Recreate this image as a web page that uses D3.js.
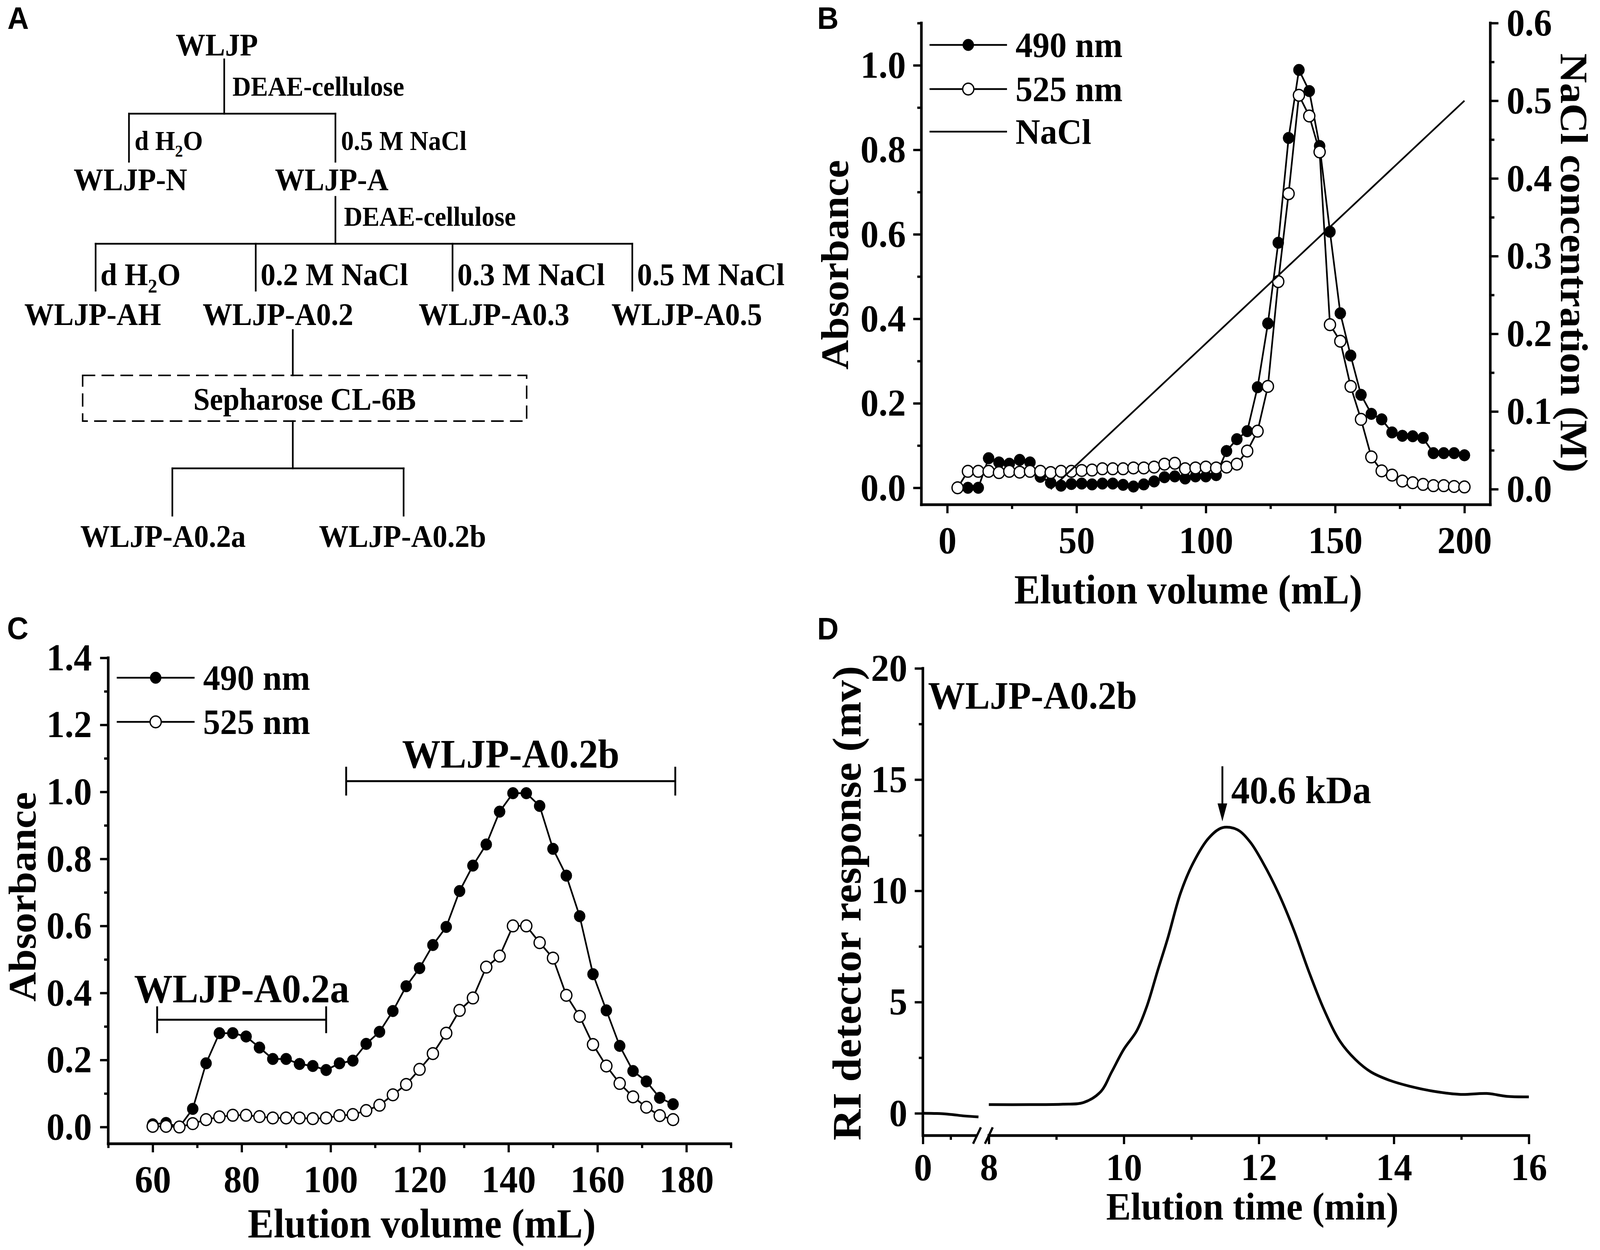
<!DOCTYPE html>
<html>
<head>
<meta charset="utf-8">
<script src="https://cdn.jsdelivr.net/npm/d3@7/dist/d3.min.js"></script>
<style>
  html, body { margin: 0; padding: 0; width: 100%; height: 100%; overflow: hidden; background: #fff; }
  svg { display: block; width: 100vw; height: 100vh; }
  text { font-family: "Liberation Serif", "Times New Roman", serif; font-weight: bold; fill: #000; }
  text.panel { font-family: "Liberation Sans", Arial, sans-serif; }
</style>
</head>
<body>
<svg id="fig" viewBox="0 0 4317 3200" preserveAspectRatio="none"></svg>
<script>
// ---------- panel A : purification scheme ----------
var aRoot = "WLJP";
var aColumn1 = "DEAE-cellulose";
var aEluents1 = ["d H2O", "0.5 M NaCl"];
var aFractions1 = ["WLJP-N", "WLJP-A"];
var aColumn2 = "DEAE-cellulose";
var aEluents2 = ["d H2O", "0.2 M NaCl", "0.3 M NaCl", "0.5 M NaCl"];
var aFractions2 = ["WLJP-AH", "WLJP-A0.2", "WLJP-A0.3", "WLJP-A0.5"];
var aColumn3 = "Sepharose CL-6B";
var aFractions3 = ["WLJP-A0.2a", "WLJP-A0.2b"];

// ---------- panel B : DEAE-cellulose elution ----------
var bVol490 = [8, 12, 16, 20, 24, 28, 32, 36, 40, 44, 48, 52, 56, 60, 64, 68, 72, 76, 80, 84, 88, 92, 96, 100,
               104, 108, 112, 116, 120, 124, 128, 132, 136, 140, 144, 148, 152, 156, 160, 164, 168, 172, 176,
               180, 184, 188, 192, 196, 200];
var bAbs490 = [0.0, 0.0, 0.07, 0.06, 0.057, 0.066, 0.06, 0.026, 0.012, 0.005, 0.009, 0.01, 0.008, 0.01, 0.01,
               0.007, 0.003, 0.008, 0.015, 0.025, 0.027, 0.022, 0.027, 0.027, 0.03, 0.087, 0.115, 0.134, 0.238,
               0.389, 0.58, 0.828, 0.989, 0.939, 0.809, 0.606, 0.413, 0.313, 0.22, 0.175, 0.162, 0.131, 0.123,
               0.122, 0.118, 0.082, 0.082, 0.082, 0.077];
var bVol525 = [4, 8, 12, 16, 20, 24, 28, 32, 36, 40, 44, 48, 52, 56, 60, 64, 68, 72, 76, 80, 84, 88, 92, 96, 100,
               104, 108, 112, 116, 120, 124, 128, 132, 136, 140, 144, 148, 152, 156, 160, 164, 168, 172, 176,
               180, 184, 188, 192, 196, 200];
var bAbs525 = [0.0, 0.039, 0.039, 0.039, 0.036, 0.039, 0.037, 0.039, 0.039, 0.036, 0.039, 0.039, 0.041, 0.042,
               0.045, 0.045, 0.045, 0.047, 0.047, 0.049, 0.056, 0.058, 0.045, 0.047, 0.049, 0.047, 0.049, 0.056,
               0.087, 0.134, 0.24, 0.488, 0.696, 0.929, 0.88, 0.795, 0.386, 0.347, 0.24, 0.162, 0.073, 0.04,
               0.03, 0.016, 0.012, 0.008, 0.005, 0.005, 0.003, 0.002];
var bNaClVol = [40, 200];
var bNaCl = [0, 0.5];
var bXTicks = [0, 50, 100, 150, 200];
var bXMinor = [25, 75, 125, 175];
var bYTicks = [0, 0.2, 0.4, 0.6, 0.8, 1.0];
var bYMinor = [0.1, 0.3, 0.5, 0.7, 0.9, 1.1];
var bRTicks = [0, 0.1, 0.2, 0.3, 0.4, 0.5, 0.6];
var bRMinor = [0.05, 0.15, 0.25, 0.35, 0.45, 0.55];

// ---------- panel C : Sepharose CL-6B elution ----------
var cVol = [60, 63, 66, 69, 72, 75, 78, 81, 84, 87, 90, 93, 96, 99, 102, 105, 108, 111, 114, 117, 120, 123,
            126, 129, 132, 135, 138, 141, 144, 147, 150, 153, 156, 159, 162, 165, 168, 171, 174, 177];
var cAbs490 = [0.008, 0.012, 0.0, 0.054, 0.19, 0.28, 0.28, 0.27, 0.237, 0.203, 0.203, 0.188, 0.182, 0.17,
               0.19, 0.198, 0.248, 0.284, 0.346, 0.42, 0.474, 0.543, 0.597, 0.704, 0.78, 0.843, 0.941, 0.996,
               0.996, 0.958, 0.83, 0.75, 0.629, 0.456, 0.348, 0.242, 0.167, 0.136, 0.087, 0.068];
var cAbs525 = [0.002, 0.002, 0.0, 0.01, 0.022, 0.03, 0.035, 0.035, 0.031, 0.027, 0.027, 0.027, 0.025, 0.027,
               0.034, 0.037, 0.049, 0.065, 0.096, 0.127, 0.172, 0.219, 0.28, 0.348, 0.385, 0.477, 0.51, 0.6,
               0.6, 0.55, 0.504, 0.393, 0.33, 0.246, 0.182, 0.13, 0.09, 0.059, 0.034, 0.022];
var cXTicks = [60, 80, 100, 120, 140, 160, 180];
var cXMinor = [50, 70, 90, 110, 130, 150, 170, 190];
var cYTicks = [0, 0.2, 0.4, 0.6, 0.8, 1.0, 1.2, 1.4];
var cYMinor = [0.1, 0.3, 0.5, 0.7, 0.9, 1.1, 1.3];
var cPeakA = [61, 99];
var cPeakB = [103.5, 177.5];

// ---------- panel D : HPGPC of WLJP-A0.2b ----------
var dTimeLow = [0, 0.5, 1.0, 1.5, 2.0];
var dRespLow = [0.0, -0.01, -0.05, -0.12, -0.16];
var dTime = [8.0, 8.6, 9.1, 9.4, 9.66, 9.82, 10.0, 10.19, 10.34, 10.5, 10.65, 10.84, 11.03, 11.26, 11.46,
             11.68, 11.87, 12.06, 12.29, 12.52, 12.74, 12.97, 13.2, 13.43, 13.66, 13.93, 14.23, 14.61, 14.99,
             15.38, 15.68, 16.0];
var dResp = [0.39, 0.39, 0.41, 0.48, 0.98, 1.86, 2.88, 3.7, 4.8, 6.4, 7.86, 9.9, 11.27, 12.38, 12.84, 12.75,
             12.2, 11.27, 9.9, 8.23, 6.38, 4.63, 3.25, 2.42, 1.86, 1.49, 1.22, 0.98, 0.85, 0.89, 0.76, 0.74];
var dPeakTime = 11.46;
var dXTicksLow = [0];
var dXMinorLow = [1];
var dXTicks = [8, 10, 12, 14, 16];
var dXMinor = [9, 11, 13, 15];
var dYTicks = [0, 5, 10, 15, 20];
var dYMinor = [2.5, 7.5, 12.5, 17.5];

var svg = d3.select("#fig");
svg.append("rect").attr("width", 4317).attr("height", 3200).attr("fill", "#fff");

var LW = 4.5, AXW = 7, R = 15, TICKFS = 98;

function seg(g, x1, y1, x2, y2, w) {
    return g.append("line")
        .attr("x1", x1).attr("y1", y1).attr("x2", x2).attr("y2", y2)
        .attr("stroke", "#000").attr("stroke-width", w || LW).attr("stroke-linecap", "square");
}

function label(g, str, x, y, size, anchor) {
    var t = g.append("text").attr("x", x).attr("y", y)
        .attr("font-size", size).attr("text-anchor", anchor || "middle");
    var m = str.match(/^(.*H)2(O.*)$/);
    if (m) {
        t.append("tspan").text(m[1]);
        t.append("tspan").attr("font-size", size * 0.62).attr("dy", size * 0.24).text("2");
        t.append("tspan").attr("dy", -size * 0.24).text(m[2]);
    } else {
        t.text(str);
    }
    return t;
}

function ticks(g, axisFn, scale, major, minor, fmt, pad, tx, ty) {
    var gm = g.append("g").attr("transform", "translate(" + tx + "," + ty + ")")
        .call(axisFn(scale).tickValues(minor).tickSize(11).tickFormat(""));
    var gM = g.append("g").attr("transform", "translate(" + tx + "," + ty + ")")
        .call(axisFn(scale).tickValues(major).tickSize(22).tickPadding(pad).tickFormat(fmt));
    [gm, gM].forEach(function (a) {
        a.select(".domain").remove();
        a.selectAll(".tick line").attr("stroke-width", 6);
    });
    gM.style("font-size", TICKFS + "px");
    return gM;
}

function series(g, xs, ys, xScale, yScale, filled) {
    var pts = xs.map(function (x, i) { return [x, ys[i]]; });
    var line = d3.line().x(function (d) { return xScale(d[0]); }).y(function (d) { return yScale(d[1]); });
    g.append("path").datum(pts).attr("d", line)
        .attr("fill", "none").attr("stroke", "#000").attr("stroke-width", LW).attr("stroke-linejoin", "round");
    g.selectAll(null).data(pts).enter().append("circle")
        .attr("cx", function (d) { return xScale(d[0]); })
        .attr("cy", function (d) { return yScale(d[1]); })
        .attr("r", R)
        .attr("fill", filled ? "#000" : "#fff")
        .attr("stroke", "#000").attr("stroke-width", filled ? 1 : 3.5);
}

function legendRow(g, x1, x2, y, marker, text) {
    seg(g, x1, y, x2, y).attr("stroke-linecap", "butt");
    if (marker) {
        g.append("circle").attr("cx", (x1 + x2) / 2).attr("cy", y).attr("r", R)
            .attr("fill", marker === "filled" ? "#000" : "#fff")
            .attr("stroke", "#000").attr("stroke-width", marker === "filled" ? 1 : 3.5);
    }
    g.append("text").attr("x", x2 + 23).attr("y", y + 31).attr("font-size", 92).text(text);
}

function panelLetter(t, x, y) {
    svg.append("text").attr("class", "panel").attr("x", x).attr("y", y).attr("font-size", 80).text(t);
}

var fmt1 = d3.format(".1f");

// ================= A =================
(function () {
    var g = svg.append("g");
    panelLetter("A", 20, 74);
    label(g, aRoot, 585, 142, 80);
    seg(g, 605, 152, 605, 291);
    label(g, aColumn1, 627, 245, 69, "start");
    var x1 = [348, 905], lab1 = [352, 895];
    seg(g, x1[0], 291, x1[1], 291);
    x1.forEach(function (x, i) {
        seg(g, x, 291, x, 414);
        label(g, aEluents1[i], x + 15, 384, 69, "start");
        label(g, aFractions1[i], lab1[i], 487, 80);
    });
    seg(g, 905, 504, 905, 624);
    label(g, aColumn2, 928, 578, 69, "start");
    var x2 = [258, 690, 1221, 1706], lab2 = [250, 750, 1333, 1853];
    seg(g, x2[0], 624, x2[3], 624);
    x2.forEach(function (x, i) {
        seg(g, x, 624, x, 744);
        label(g, aEluents2[i], x + 13, 730, 81, "start");
        label(g, aFractions2[i], lab2[i], 832, 80);
    });
    seg(g, 790, 845, 790, 961);
    g.append("rect").attr("x", 223).attr("y", 961).attr("width", 1198).attr("height", 117)
        .attr("fill", "none").attr("stroke", "#000").attr("stroke-width", 4)
        .attr("stroke-dasharray", "34,17");
    label(g, aColumn3, 822, 1049, 80);
    seg(g, 790, 1078, 790, 1199);
    var x3 = [465, 1089], lab3 = [440, 1086];
    seg(g, x3[0], 1199, x3[1], 1199);
    x3.forEach(function (x, i) {
        seg(g, x, 1199, x, 1320);
        label(g, aFractions3[i], lab3[i], 1400, 80);
    });
})();

// ================= B =================
(function () {
    var g = svg.append("g");
    panelLetter("B", 2205, 74);
    var x = d3.scaleLinear().domain([-10, 210]).range([2486, 4021]);
    var yL = d3.scaleLinear().domain([-0.04, 1.1]).range([1292, 59]);
    var yR = d3.scaleLinear().domain([-0.02, 0.6]).range([1292, 59]);
    var x0 = x.range()[0], x1 = x.range()[1], yb = yL.range()[0], yt = yL.range()[1];

    ticks(g, d3.axisLeft, yL, bYTicks, bYMinor, fmt1, 20, x0, 0);
    ticks(g, d3.axisRight, yR, bRTicks, bRMinor, fmt1, 22, x1, 0);
    ticks(g, d3.axisBottom, x, bXTicks, bXMinor, d3.format("d"), 32, 0, yb);
    seg(g, x0, yt, x0, yb, AXW);
    seg(g, x1, yt, x1, yb, AXW);
    seg(g, x0, yb, x1, yb, AXW);

    series(g, bVol490, bAbs490, x, yL, true);
    series(g, bVol525, bAbs525, x, yL, false);
    var naclLine = d3.line().x(function (d, i) { return x(d); }).y(function (d, i) { return yR(bNaCl[i]); });
    g.append("path").datum(bNaClVol).attr("d", naclLine)
        .attr("fill", "none").attr("stroke", "#000").attr("stroke-width", LW);

    legendRow(g, 2508, 2717, 115, "filled", "490 nm");
    legendRow(g, 2508, 2717, 228, "open", "525 nm");
    legendRow(g, 2508, 2717, 337, null, "NaCl");

    g.append("text").attr("x", 3206).attr("y", 1545).attr("font-size", 105)
        .attr("text-anchor", "middle").text("Elution volume (mL)");
    g.append("text").attr("transform", "translate(2288,678) rotate(-90)").attr("font-size", 105)
        .attr("text-anchor", "middle").text("Absorbance");
    g.append("text").attr("transform", "translate(4212,673) rotate(90)").attr("font-size", 105)
        .attr("text-anchor", "middle").text("NaCl concentration (M)");
})();

// ================= C =================
(function () {
    var g = svg.append("g");
    panelLetter("C", 19, 1636);
    var x = d3.scaleLinear().domain([50, 190]).range([292, 1972]);
    var y = d3.scaleLinear().domain([-0.05, 1.4]).range([2928, 1684]);
    var x0 = x.range()[0], x1 = x.range()[1], yb = y.range()[0], yt = y.range()[1];

    ticks(g, d3.axisLeft, y, cYTicks, cYMinor, fmt1, 22, x0, 0);
    ticks(g, d3.axisBottom, x, cXTicks, cXMinor, d3.format("d"), 32, 0, yb);
    seg(g, x0, yt, x0, yb, AXW);
    seg(g, x0, yb, x1, yb, AXW);

    series(g, cVol, cAbs490, x, y, true);
    series(g, cVol, cAbs525, x, y, false);

    // fraction brackets
    [[cPeakA, 0.32, 0.04, "WLJP-A0.2a", 0.372], [cPeakB, 1.032, 0.043, "WLJP-A0.2b", 1.072]].forEach(function (b) {
        var r = b[0];
        seg(g, x(r[0]), y(b[1]), x(r[1]), y(b[1]), 5).attr("stroke-linecap", "butt");
        seg(g, x(r[0]), y(b[1] - b[2]), x(r[0]), y(b[1] + b[2]), 5).attr("stroke-linecap", "butt");
        seg(g, x(r[1]), y(b[1] - b[2]), x(r[1]), y(b[1] + b[2]), 5).attr("stroke-linecap", "butt");
        g.append("text").attr("x", x((r[0] + r[1]) / 2)).attr("y", y(b[4]))
            .attr("font-size", 104).attr("text-anchor", "middle").text(b[3]);
    });

    legendRow(g, 315, 525, 1735, "filled", "490 nm");
    legendRow(g, 315, 525, 1848, "open", "525 nm");

    g.append("text").attr("x", 1138).attr("y", 3168).attr("font-size", 105)
        .attr("text-anchor", "middle").text("Elution volume (mL)");
    g.append("text").attr("transform", "translate(96,2296) rotate(-90)").attr("font-size", 105)
        .attr("text-anchor", "middle").text("Absorbance");
})();

// ================= D =================
(function () {
    var g = svg.append("g");
    panelLetter("D", 2205, 1637);
    var xL = d3.scaleLinear().domain([0, 2]).range([2490, 2640]);
    var xR = d3.scaleLinear().domain([8, 16]).range([2668, 4125]);
    var y = d3.scaleLinear().domain([-1, 20]).range([2907, 1711]);
    var x0 = xL.range()[0], yb = y.range()[0], yt = y.range()[1];

    ticks(g, d3.axisLeft, y, dYTicks, dYMinor, d3.format("d"), 20, x0, 0);
    ticks(g, d3.axisBottom, xL, dXTicksLow, dXMinorLow, d3.format("d"), 22, 0, yb);
    ticks(g, d3.axisBottom, xR, dXTicks, dXMinor, d3.format("d"), 22, 0, yb);
    seg(g, x0, yt, x0, yb, AXW);
    seg(g, x0, yb, xL(2) - 4, yb, AXW).attr("stroke-linecap", "butt");
    seg(g, xR(8), yb, xR.range()[1], yb, AXW);
    // axis break marks
    [xL(2) - 4, xR(8)].forEach(function (cx) {
        seg(g, cx - 10.5, yb + 21, cx + 10.5, yb - 21, 6).attr("stroke-linecap", "butt");
    });

    var lowLine = d3.line().curve(d3.curveMonotoneX)
        .x(function (d, i) { return xL(d); }).y(function (d, i) { return y(dRespLow[i]); });
    g.append("path").datum(dTimeLow).attr("d", lowLine)
        .attr("fill", "none").attr("stroke", "#000").attr("stroke-width", 7);
    var mainLine = d3.line().curve(d3.curveCatmullRom.alpha(0.5))
        .x(function (d, i) { return xR(d); }).y(function (d, i) { return y(dResp[i]); });
    g.append("path").datum(dTime).attr("d", mainLine)
        .attr("fill", "none").attr("stroke", "#000").attr("stroke-width", 7).attr("stroke-linejoin", "round");

    // peak arrow
    var ax = xR(dPeakTime), tip = y(13.12);
    seg(g, ax, y(15.6), ax, tip - 40, 5).attr("stroke-linecap", "butt");
    g.append("path").attr("d", "M" + ax + "," + tip + "L" + (ax - 13) + "," + (tip - 46) + "L" + (ax + 13) + "," + (tip - 46) + "Z")
        .attr("fill", "#000");
    g.append("text").attr("x", xR(11.59)).attr("y", y(13.95)).attr("font-size", 100).text("40.6 kDa");
    g.append("text").attr("x", x0 + 14).attr("y", y(18.2)).attr("font-size", 100).text("WLJP-A0.2b");

    g.append("text").attr("x", 3379).attr("y", 3122).attr("font-size", 100)
        .attr("text-anchor", "middle").text("Elution time (min)");
    g.append("text").attr("transform", "translate(2322,2312) rotate(-90)").attr("font-size", 110)
        .attr("text-anchor", "middle").text("RI detector response (mv)");
})();
</script>
</body>
</html>
